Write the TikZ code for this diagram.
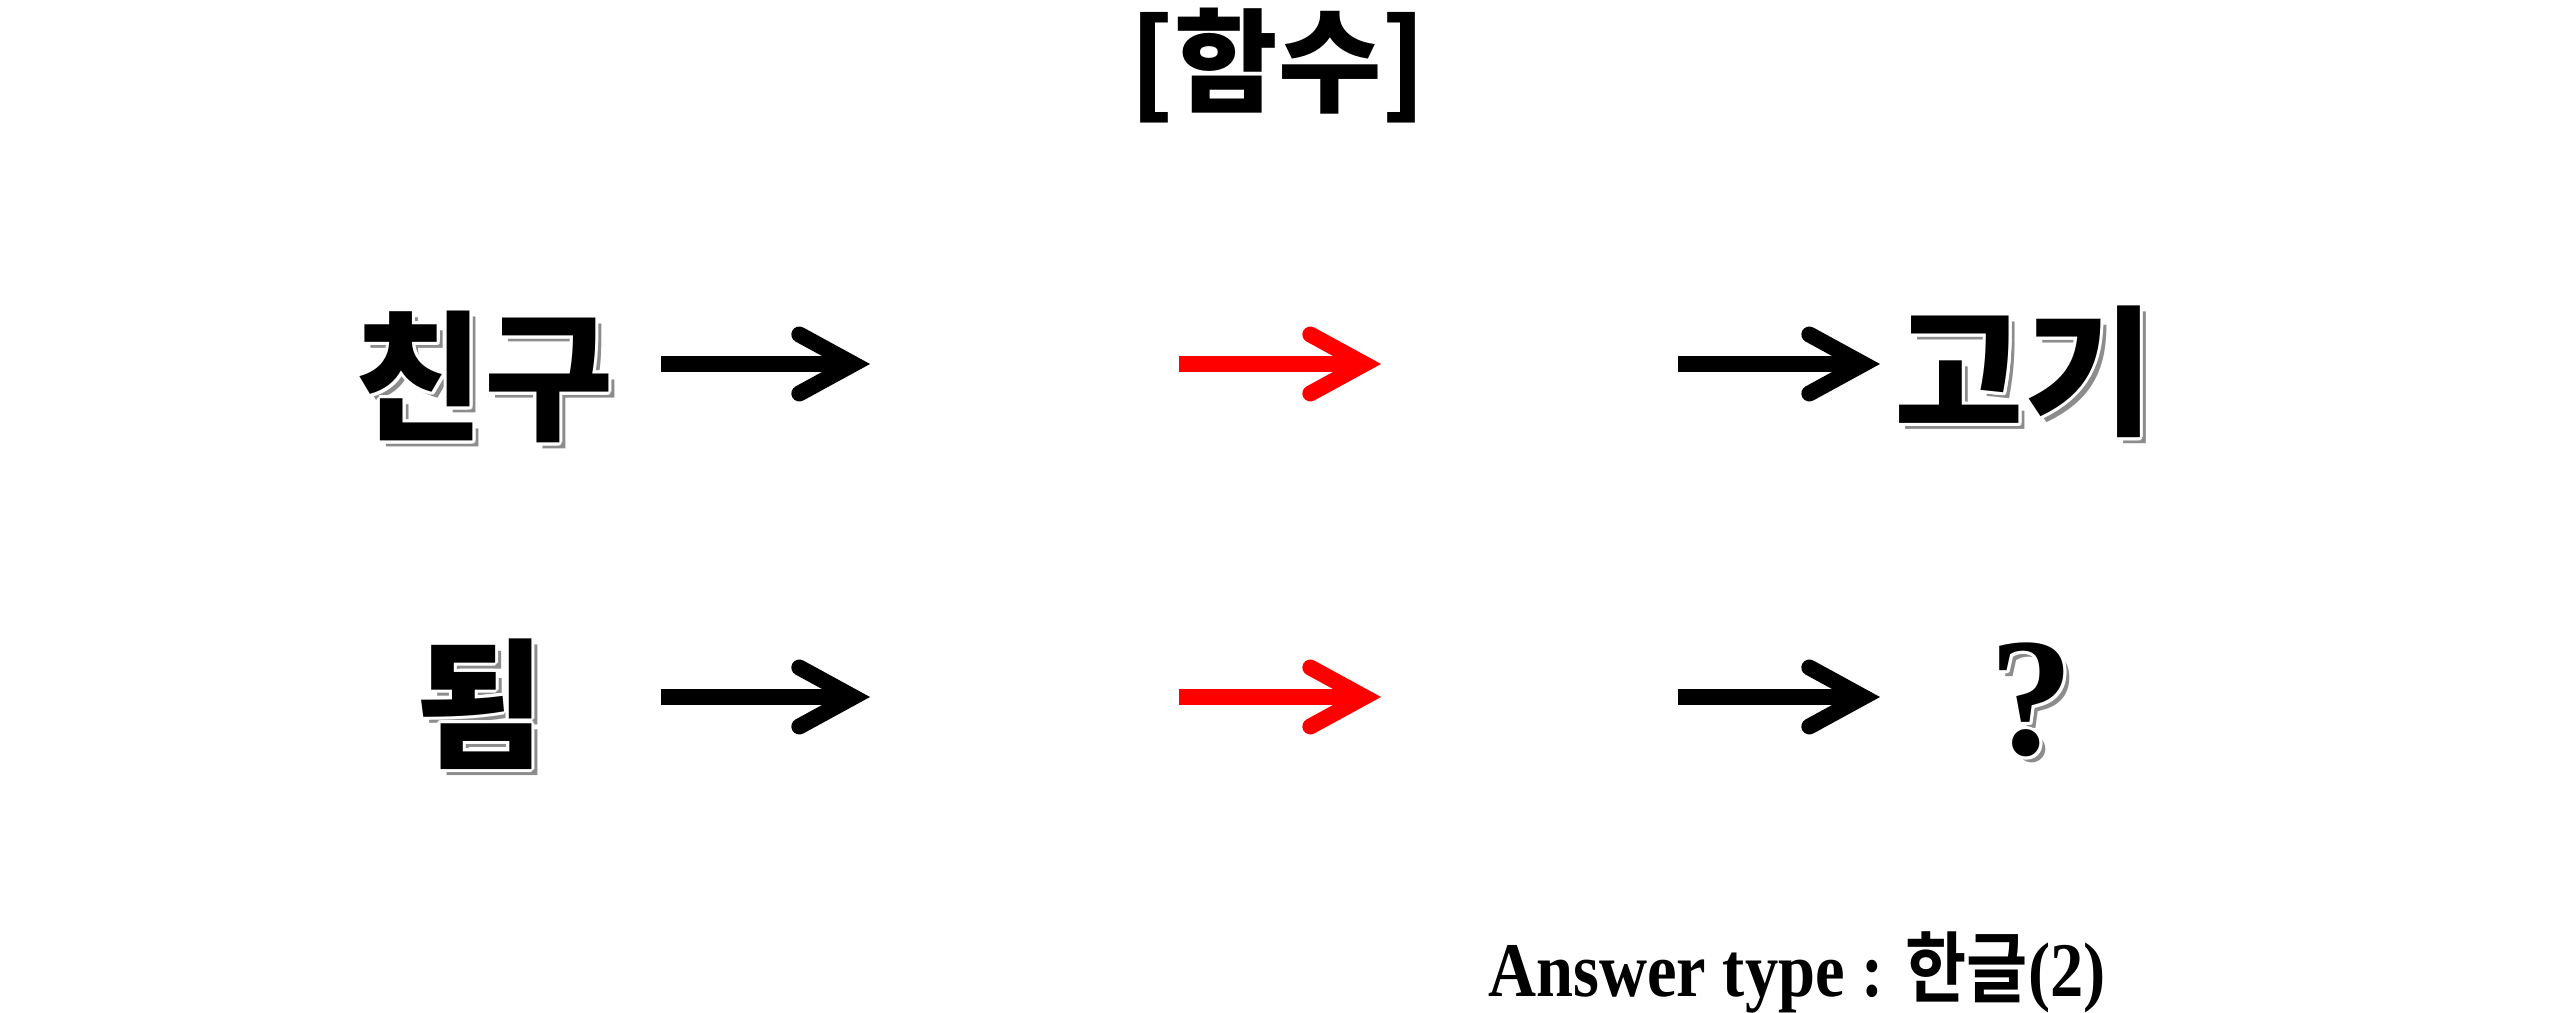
\documentclass[tikz,border=0pt]{standalone}
\usepackage{graphicx}
\usepackage{fontspec}
\setmainfont{Liberation Serif}
\IfFontExistsTF{Noto Sans CJK KR Black}
  {\newfontfamily\krfont{Noto Sans CJK KR Black}}
  {\newfontfamily\krbase{Noto Sans CJK KR}\newcommand{\krfont}{\krbase\bfseries}}
\usetikzlibrary{calc, arrows.meta}
\definecolor{ombre}{gray}{0.55}

\begin{document}
\begin{tikzpicture}[x=0.1mm, y=-0.1mm,
    fleche/.style={line width=1.6mm, -{Straight Barb[length=5.4mm, width=5.9mm, line cap=round, line join=miter]}},
    mot/.style={inner sep=0pt, font=\krfont\fontsize{40}{40}\selectfont},
    signe/.style={inner sep=0pt, font=\bfseries\fontsize{48}{48}\selectfont}]
  \useasboundingbox (0,0) rectangle (2559,1013);

  \node[inner sep=0pt, font=\krfont\fontsize{32}{32}\selectfont] (titre) at (1278,66) {[함수]};

  % mots avec ombre grise et contour blanc
  \foreach \nom/\x/\y/\mot in {chingu/484/377/친구, gogi/2024/372/고기, doem/480/704/됨} {
    \node[mot, text=ombre] (\nom-ombre) at (\x+6,\y+6) {\mot};
    \foreach \a in {0,30,...,330}
      \node[mot, text=white] (\nom-halo-\a) at ($(\x,\y)+(\a:3)$) {\mot};
    \node[mot] (\nom) at (\x,\y) {\mot};
  }

  \node[signe, text=ombre] (question-ombre) at (2038,706) {?};
  \foreach \a in {0,30,...,330}
    \node[signe, text=white] (question-halo-\a) at ($(2032,700)+(\a:3)$) {?};
  \node[signe] (question) at (2032,700) {?};

  % fleches, trois par ligne
  \foreach \ligne/\y in {haut/364, bas/697} {
    \foreach \num/\debut/\fin/\couleur in {1/661/870/black, 2/1179/1381/red, 3/1678/1880/black} {
      \coordinate (\ligne-d\num) at (\debut,\y);
      \coordinate (\ligne-f\num) at (\fin,\y);
      \draw[fleche, \couleur] (\ligne-d\num) -- (\ligne-f\num);
    }
  }

  \node[inner sep=0pt, font=\bfseries\fontsize{22}{22}\selectfont] (reponse) at (1797,972)
    {\scalebox{0.86}[1]{Answer type : {\krfont 한글}(2)}};
\end{tikzpicture}
\end{document}
